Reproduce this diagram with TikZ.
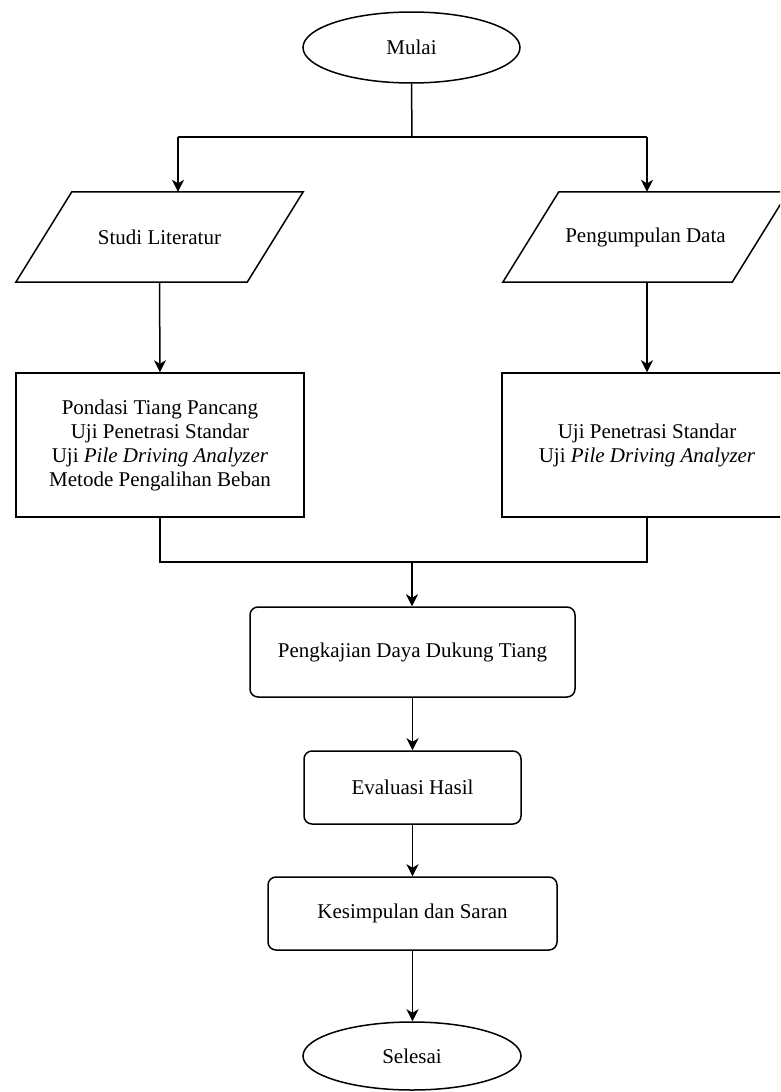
\documentclass[tikz,border=0pt]{standalone}
\usepackage{fontspec}
\setmainfont{Liberation Serif}
\usetikzlibrary{shapes.geometric,arrows.meta}
\begin{document}
\begin{tikzpicture}[x=1pt,y=-1pt,
  every node/.style={font=\fontsize{21}{24}\selectfont, align=center, inner sep=0pt},
  line/.style={line width=1.5pt},
  arr/.style={line, -{Stealth[length=12pt,width=12pt,inset=3.5pt]}},
  term/.style={ellipse, draw, line width=1.5pt},
  box/.style={rectangle, draw, line width=1.5pt},
  rbox/.style={rectangle, draw, line width=1.5pt, rounded corners=8pt},
  ghost/.style={rectangle}]
\clip (0,0) rectangle (780,1092);
\fill[white] (0,0) rectangle (780,1092);

\node[term, minimum width=217pt, minimum height=71pt] (mulai) at (411.5,47.5) {Mulai};

\node[ghost, minimum width=287pt, minimum height=90pt] (studi) at (159.5,237) {Studi Literatur};
\draw[line] ([xshift=56pt]studi.north west) -- (studi.north east) -- ([xshift=-56pt]studi.south east) -- (studi.south west) -- cycle;

\node[ghost, minimum width=285pt, minimum height=90pt] (peng) at (645.5,237) {Pengumpulan Data};
\draw[line] ([xshift=56pt]peng.north west) -- (peng.north east) -- ([xshift=-56pt]peng.south east) -- (peng.south west) -- cycle;

\node[box, minimum width=288pt, minimum height=144pt] (teori) at (160,445)
  {Pondasi Tiang Pancang\\Uji Penetrasi Standar\\Uji \textit{Pile Driving Analyzer}\\Metode Pengalihan Beban};

\node[box, minimum width=290pt, minimum height=144pt] (uji) at (647,445)
  {Uji Penetrasi Standar\\Uji \textit{Pile Driving Analyzer}};

\node[rbox, minimum width=325pt, minimum height=90pt] (kaji) at (412.5,652) {Pengkajian Daya Dukung Tiang};
\node[rbox, minimum width=217pt, minimum height=73pt] (eval) at (412.5,787.5) {Evaluasi Hasil};
\node[rbox, minimum width=289pt, minimum height=73pt] (simp) at (412.5,913.5) {Kesimpulan dan Saran};
\node[term, minimum width=218pt, minimum height=68pt] (selesai) at (412,1056) {Selesai};

\coordinate (split) at (412,137);
\coordinate (sl) at (178,137);
\coordinate (sr) at (647,137);
\coordinate (ml) at (160,562);
\coordinate (mr) at (647,562);
\coordinate (mm) at (412,562);

\draw[line] (mulai.south) -- (split);
\draw[line] (sl) -- (sr);
\draw[arr] (sl) -- (sl |- studi.north);
\draw[arr] (sr) -- (sr |- peng.north);
\draw[arr] (studi.south) -- (teori.north);
\draw[arr] (peng.south -| uji.north) -- (uji.north);
\draw[line] (teori.south) -- (ml) -- (mr) -- (uji.south);
\draw[arr] (mm) -- (mm |- kaji.north);
\draw[arr] (kaji.south) -- (kaji.south |- eval.north);
\draw[arr] (eval.south) -- (simp.north);
\draw[arr] (simp.south) -- (simp.south |- selesai.north);
\end{tikzpicture}
\end{document}
